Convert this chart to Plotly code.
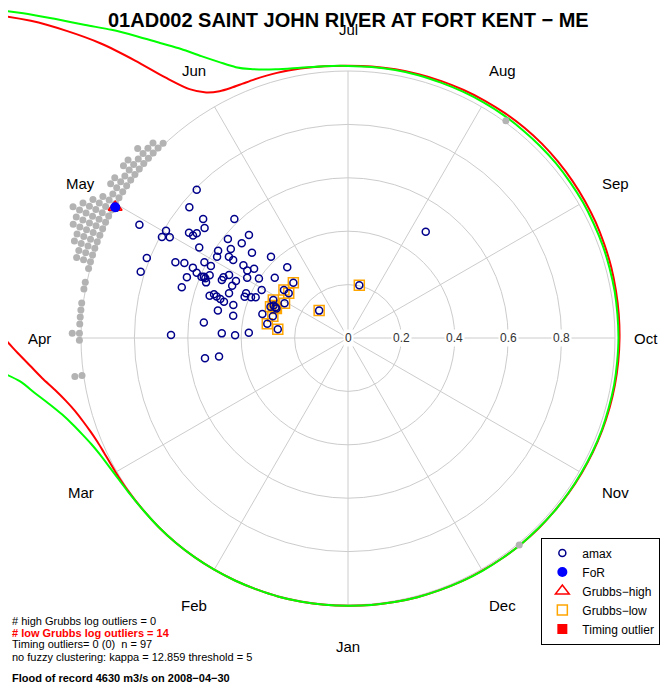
import math
import plotly.graph_objects as go

FONT = "Liberation Sans, Arial, sans-serif"

# ---------------- data ----------------
# annual maxima: timing angle (deg, counter-clockwise from Oct axis) and relative magnitude
amax_theta = [135.6, 140.5, 140.6, 133.7, 151.5, 149.5, 151.5, 150.5, 146.5, 146.5,
              145.3, 142.5, 140.5, 142.8, 148.7, 158.3, 146.1, 148.2, 145.7, 145.8,
              156.3, 155.4, 152.2, 152.3, 155.6, 156.7, 162.3, 159.3, 157.3, 157.3,
              155.6, 158.6, 154.0, 155.3, 152.1, 153.0, 155.7, 163.0, 159.4, 163.0,
              161.9, 162.5, 163.0, 163.7, 163.9, 168.1, 169.0, 173.9, 179.0, 177.9,
              178.6, 188.1, 188.2, 133.9, 138.3, 138.4, 133.5, 145.2, 143.6, 130.7,
              146.2, 149.1, 146.3, 140.6, 158.2, 156.3, 157.2, 156.2, 150.9, 164.4,
              177.0, 157.0, 53.8, 150.7]
amax_r = [0.793, 0.77, 0.702, 0.616, 0.889, 0.791, 0.793, 0.767, 0.714, 0.696,
          0.689, 0.677, 0.583, 0.551, 0.652, 0.811, 0.586, 0.577, 0.54, 0.52,
          0.706, 0.674, 0.608, 0.58, 0.638, 0.617, 0.815, 0.645, 0.595, 0.579,
          0.569, 0.571, 0.519, 0.52, 0.504, 0.471, 0.476, 0.651, 0.476, 0.542,
          0.528, 0.516, 0.5, 0.484, 0.447, 0.498, 0.438, 0.543, 0.663, 0.473,
          0.423, 0.541, 0.488, 0.535, 0.533, 0.481, 0.419, 0.477, 0.437, 0.349,
          0.454, 0.44, 0.401, 0.355, 0.417, 0.417, 0.394, 0.378, 0.37, 0.333,
          0.372, 0.586, 0.493, 0.996]
# low Grubbs outliers (also annual maxima)
low_theta = [134.7, 143.1, 143.0, 153.0, 151.3, 158.0, 157.0, 157.6, 163.9, 170.0,
             172.9, 136.5, 77.9, 156.4]
low_r = [0.291, 0.3, 0.278, 0.314, 0.271, 0.313, 0.295, 0.29, 0.293, 0.307,
         0.265, 0.149, 0.202, 0.304]
# flood of record
for_theta = [150.7]
for_r = [1.0]

# stacked timing dots (bin angle, count)
stack_theta = [133.5, 135.0, 136.5, 138.0, 139.5, 141.0, 142.5, 144.0, 145.5, 147.0,
               148.5, 150.0, 151.5, 153.0, 154.5, 156.0, 157.5, 159.0, 160.5, 162.0,
               163.5, 165.0, 168.0, 169.5, 172.5, 174.0, 175.5, 177.0, 179.0, 180.5,
               188.0, 54.0, 309.6]
stack_count = [1, 2, 2, 3, 2, 3, 3, 2, 3, 3,
               2, 3, 4, 5, 6, 5, 5, 4, 4, 3,
               3, 1, 1, 1, 1, 1, 1, 1, 2, 1,
               2, 1, 1]

# circular density envelopes (angle deg, radius)
red_theta = [90, 95, 100, 105, 110, 112.5, 115, 117.5, 120, 122.5, 125, 127.5, 130, 132.5,
             135, 137.5, 140, 145, 150, 155, 160, 165, 170, 175, 177.5, 180, 182.5, 185,
             187.5, 190, 192.5, 195, 197.5, 200, 202.5, 205, 210, 215, 220, 225, 230, 235,
             240, 245, 250, 255, 260, 265, 270, 275, 280, 285, 290, 295, 300, 305, 310,
             315, 320, 325, 330, 335, 340, 345, 350, 355, 360, 365, 370, 375, 380, 385,
             390, 395, 400, 405, 410, 415, 420, 425, 430, 435, 440, 445, 450]
red_r = [1.020, 1.022, 1.025, 1.028, 1.030, 1.031, 1.034, 1.042, 1.062, 1.105, 1.19, 1.31,
         1.44, 1.56, 1.68, 1.79, 1.89, 2.03, 2.10, 2.06, 1.94, 1.78, 1.60, 1.43, 1.36, 1.29,
         1.24, 1.195, 1.155, 1.115, 1.083, 1.058, 1.040, 1.026, 1.016, 1.010, 1.005, 1.003,
         1.002, 1.002, 1.002, 1.002, 1.002, 1.002, 1.002, 1.003, 1.003, 1.003, 1.003, 1.004,
         1.004, 1.005, 1.005, 1.006, 1.006, 1.007, 1.008, 1.009, 1.009, 1.010, 1.011, 1.012,
         1.013, 1.014, 1.015, 1.016, 1.017, 1.018, 1.019, 1.021, 1.022, 1.024, 1.025, 1.026,
         1.027, 1.028, 1.028, 1.027, 1.026, 1.025, 1.024, 1.023, 1.022, 1.021, 1.020]
green_theta = [90, 95, 100, 105, 110, 112.5, 115, 117.5, 120, 122.5, 125, 127.5, 130, 132.5,
               135, 137.5, 140, 145, 150, 155, 160, 165, 170, 175, 177.5, 180, 182.5, 185,
               187.5, 190, 192.5, 195, 197.5, 200, 202.5, 205, 210, 215, 220, 225, 230, 235,
               240, 245, 250, 255, 260, 265, 270, 275, 280, 285, 290, 295, 300, 305, 310,
               315, 320, 325, 330, 335, 340, 345, 350, 355, 360, 365, 370, 375, 380, 385,
               390, 395, 400, 405, 410, 415, 420, 425, 430, 435, 440, 445, 450]
green_r = [1.019, 1.022, 1.028, 1.042, 1.072, 1.098, 1.14, 1.19, 1.25, 1.31, 1.38, 1.455,
           1.53, 1.62, 1.72, 1.82, 1.92, 2.10, 2.25, 2.32, 2.30, 2.20, 2.02, 1.80, 1.68, 1.56,
           1.44, 1.33, 1.24, 1.19, 1.145, 1.108, 1.080, 1.058, 1.040, 1.027, 1.012, 1.005,
           1.002, 1.002, 1.002, 1.002, 1.002, 1.002, 1.002, 1.003, 1.003, 1.003, 1.003, 1.004,
           1.004, 1.005, 1.005, 1.006, 1.007, 1.007, 1.008, 1.008, 1.009, 1.009, 1.009, 1.010,
           1.011, 1.011, 1.012, 1.012, 1.013, 1.013, 1.014, 1.014, 1.015, 1.015, 1.016, 1.016,
           1.017, 1.017, 1.017, 1.018, 1.018, 1.018, 1.018, 1.019, 1.019, 1.019, 1.019]

month_names = ["Jul", "Aug", "Sep", "Oct", "Nov", "Dec", "Jan", "Feb", "Mar", "Apr", "May", "Jun"]
month_angles = [90, 60, 30, 0, -30, -60, -90, -120, -150, 180, 150, 120]
ring_values = [0.2, 0.4, 0.6, 0.8, 1.0]
ring_labels = ["0", "0.2", "0.4", "0.6", "0.8"]
ring_label_pos = [0.0, 0.2, 0.4, 0.6, 0.8]

title = "01AD002 SAINT JOHN RIVER AT FORT KENT \u2212 ME"
info_lines = ["# high Grubbs log outliers = 0",
              "<b># low Grubbs log outliers = 14</b>",
              "Timing outliers= 0 (0)  n = 97",
              "no fuzzy clustering: kappa = 12.859 threshold = 5",
              "<b>Flood of record 4630 m3/s on 2008\u221204\u221230</b>"]
info_colors = ["black", "#FF0000", "black", "black", "black"]


# ---------------- helpers ----------------
def px_(t, r):
    return [ri * math.cos(math.radians(ti)) for ti, ri in zip(t, r)]


def py_(t, r):
    return [ri * math.sin(math.radians(ti)) for ti, ri in zip(t, r)]


OFF = 8                              # page offset of the figure (body margin)
W, H = 669 - 2 * OFF, 692 - 2 * OFF  # figure size that fits the window
PCX, PCY, S = 348.0, 338.0, 267.0    # chart centre in page pixels, px per unit
CX, CY = PCX - OFF, PCY - OFF        # chart centre in figure pixels
xr = [(0 - CX) / S, (W - CX) / S]
yr = [-(H - CY) / S, CY / S]


def ypix(p):  # page pixel row -> data y
    return (PCY - p) / S


def xpix(p):  # page pixel column -> data x
    return (p - PCX) / S


fig = go.Figure()

# envelopes
fig.add_trace(go.Scatter(x=px_(red_theta, red_r), y=py_(red_theta, red_r), mode="lines",
                         line=dict(color="#FF0000", width=2, shape="spline", smoothing=0.8),
                         showlegend=False, hoverinfo="skip"))
fig.add_trace(go.Scatter(x=px_(green_theta, green_r), y=py_(green_theta, green_r), mode="lines",
                         line=dict(color="#00FF00", width=2, shape="spline", smoothing=0.8),
                         showlegend=False, hoverinfo="skip"))

# stacked timing dots
st_t, st_r = [], []
for t, c in zip(stack_theta, stack_count):
    for k in range(c):
        st_t.append(t)
        st_r.append(1.006 + 0.027 * k)
fig.add_trace(go.Scatter(x=px_(st_t, st_r), y=py_(st_t, st_r), mode="markers",
                         marker=dict(color="#B3B3B3", size=7, line=dict(width=0)),
                         showlegend=False, hoverinfo="skip"))

# Grubbs low
fig.add_trace(go.Scatter(x=px_(low_theta, low_r), y=py_(low_theta, low_r), mode="markers",
                         name="Grubbs\u2212low", legendrank=4,
                         marker=dict(symbol="square-open", color="#FFA500", size=10,
                                     line=dict(width=1.5))))
# amax
all_t = amax_theta + low_theta
all_r = amax_r + low_r
fig.add_trace(go.Scatter(x=px_(all_t, all_r), y=py_(all_t, all_r), mode="markers",
                         name="amax", legendrank=1,
                         marker=dict(symbol="circle-open", color="#00008B", size=7,
                                     line=dict(width=1.5))))
# Grubbs high marker (under FoR)
fig.add_trace(go.Scatter(x=px_(for_theta, for_r), y=py_(for_theta, for_r), mode="markers",
                         name="Grubbs\u2212high", legendrank=3,
                         marker=dict(symbol="triangle-up-open", color="#FF0000", size=12,
                                     line=dict(width=1.5))))
# FoR
fig.add_trace(go.Scatter(x=px_(for_theta, for_r), y=py_(for_theta, for_r), mode="markers",
                         name="FoR", legendrank=2,
                         marker=dict(symbol="circle", color="#0000FF", size=10)))
# Timing outlier (none)
fig.add_trace(go.Scatter(x=[None], y=[None], mode="markers", name="Timing outlier",
                         legendrank=5,
                         marker=dict(symbol="square", color="#FF0000", size=10)))

shapes = []
for rv in ring_values:
    shapes.append(dict(type="circle", xref="x", yref="y", x0=-rv, y0=-rv, x1=rv, y1=rv,
                       line=dict(color="#CCCCCC", width=1), layer="below"))
for a in month_angles:
    shapes.append(dict(type="line", xref="x", yref="y", x0=0, y0=0,
                       x1=math.cos(math.radians(a)), y1=math.sin(math.radians(a)),
                       line=dict(color="#CCCCCC", width=1), layer="below"))

ann = []
for lab, pos in zip(ring_labels, ring_label_pos):
    ann.append(dict(x=pos, y=0, xref="x", yref="y", text=lab, showarrow=False,
                    font=dict(family=FONT, size=12, color="#333333"),
                    bgcolor="white", borderpad=1, xanchor="center", yanchor="middle"))
for name, a in zip(month_names, month_angles):
    mx = 1.155 * math.cos(math.radians(a))
    my = 1.155 * math.sin(math.radians(a))
    anchor = "center"
    if mx > xr[1] - 0.06:          # keep the label inside the window
        mx, anchor = xr[1] - 0.004, "right"
    ann.append(dict(x=mx, y=my, xref="x", yref="y", text=name, showarrow=False,
                    font=dict(family=FONT, size=15, color="black"),
                    xanchor=anchor, yanchor="middle"))
ann.append(dict(x=0, y=ypix(19.5), xref="x", yref="y", text="<b>" + title + "</b>",
                showarrow=False, font=dict(family=FONT, size=20, color="black"),
                xanchor="center", yanchor="middle"))
for line, col, yp in zip(info_lines, info_colors, [620.7, 632.7, 643.7, 656.7, 677.5]):
    ann.append(dict(x=xpix(10), y=ypix(yp), xref="x", yref="y", text=line,
                    showarrow=False, font=dict(family=FONT, size=11, color=col),
                    xanchor="left", yanchor="middle"))

fig.update_layout(
    width=W, height=H,
    margin=dict(l=0, r=0, t=0, b=0, pad=0, autoexpand=False),
    paper_bgcolor="white", plot_bgcolor="white",
    xaxis=dict(range=xr, visible=False, showgrid=False, zeroline=False, fixedrange=True),
    yaxis=dict(range=yr, visible=False, showgrid=False, zeroline=False, fixedrange=True),
    shapes=shapes, annotations=ann,
    showlegend=True,
    legend=dict(x=0.999, y=1 - (591 - OFF) / H, xanchor="right", yanchor="middle",
                bordercolor="black", borderwidth=1, bgcolor="white",
                font=dict(family=FONT, size=12, color="black"),
                itemwidth=30, tracegroupgap=0),
    hovermode=False,
)

fig.write_html("out.html")
